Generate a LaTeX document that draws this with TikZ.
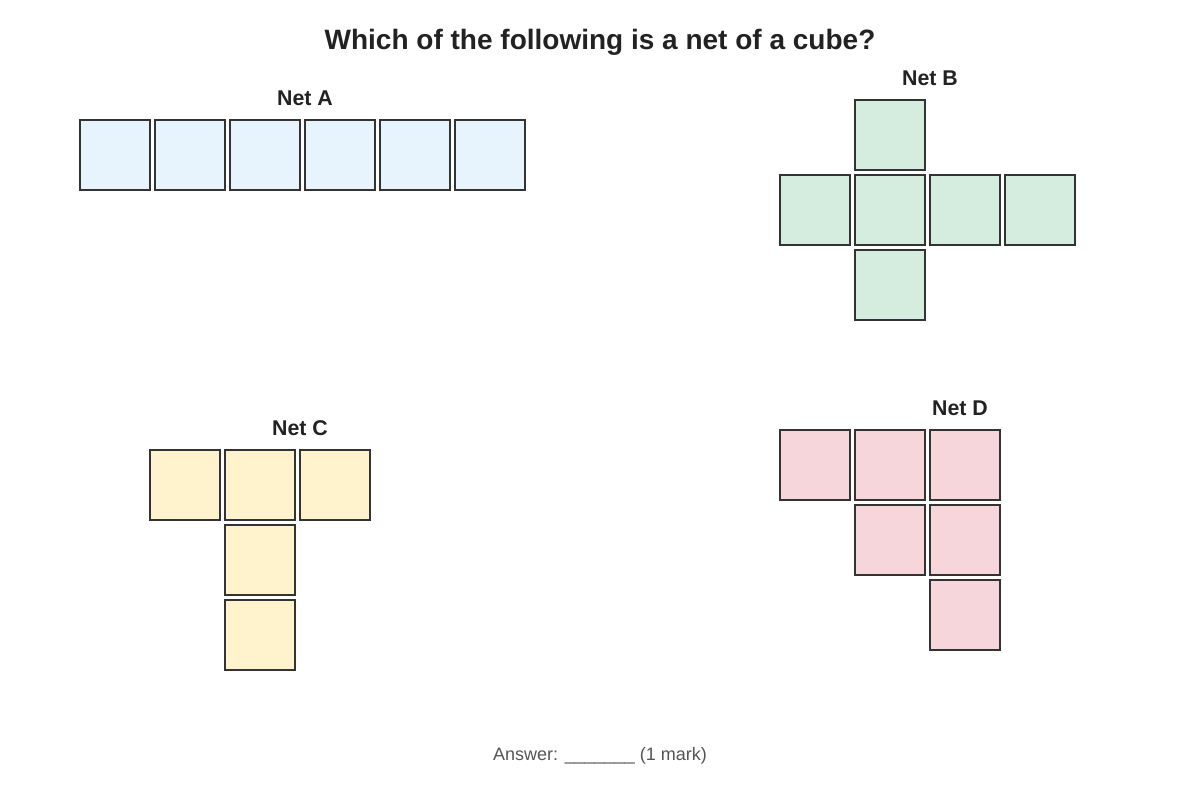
\documentclass[tikz,border=0pt]{standalone}
\usepackage{fontspec}
\setmainfont{Liberation Sans}
\definecolor{fa}{HTML}{E8F4FD}
\definecolor{fb}{HTML}{D5EDDF}
\definecolor{fc}{HTML}{FFF3CD}
\definecolor{fd}{HTML}{F6D6DA}
\definecolor{edge}{HTML}{333333}
\definecolor{ttl}{HTML}{222222}
\definecolor{ans}{HTML}{555555}
\begin{document}
\begin{tikzpicture}[x=0.75pt,y=-0.75pt,
  face/.style={draw=edge,line width=1.5pt,minimum size=52.5pt,inner sep=0pt,outer sep=0pt,anchor=north west},
  lbl/.style={font=\bfseries\fontsize{16}{19}\selectfont,text=ttl}]
\useasboundingbox[fill=white] (0,0) rectangle (1200,800);
\node[font=\bfseries\fontsize{21}{26}\selectfont,text=ttl] (title) at (600,42) {Which of the following is a net of a cube?};
% Net A
\node[lbl] (la) at (305,98) {Net A};
\foreach \i in {0,...,5} \node[face,fill=fa] (a\i) at (80+75*\i,120) {};
% Net B
\node[lbl] (lb) at (930,78) {Net B};
\node[face,fill=fb] (b0) at (855,100) {};
\foreach \i in {0,...,3} \node[face,fill=fb] (b1\i) at (780+75*\i,175) {};
\node[face,fill=fb] (b2) at (855,250) {};
% Net C
\node[lbl] (lc) at (300,428) {Net C};
\foreach \i in {0,...,2} \node[face,fill=fc] (c\i) at (150+75*\i,450) {};
\node[face,fill=fc] (c3) at (225,525) {};
\node[face,fill=fc] (c4) at (225,600) {};
% Net D
\node[lbl] (ld) at (960,408) {Net D};
\foreach \i in {0,...,2} \node[face,fill=fd] (d\i) at (780+75*\i,430) {};
\node[face,fill=fd] (d3) at (855,505) {};
\node[face,fill=fd] (d4) at (930,505) {};
\node[face,fill=fd] (d5) at (930,580) {};
\node[font=\fontsize{13.5}{16}\selectfont,text=ans] (answer) at (600,756) {Answer: \_\_\_\_\_\_\_ (1 mark)};
\end{tikzpicture}
\end{document}
